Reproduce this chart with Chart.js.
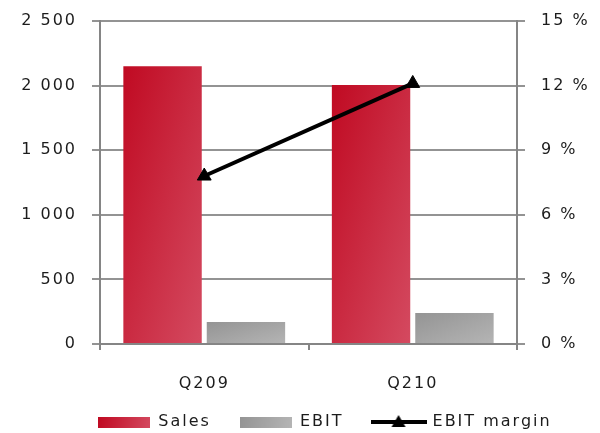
<!DOCTYPE html>
<html>
<head>
<meta charset="utf-8">
<script src="https://cdn.jsdelivr.net/npm/chart.js@4.4.0/dist/chart.umd.min.js"></script>
<style>
  html, body { margin: 0; padding: 0; background: #fff; }
  #wrap { width: 600px; height: 433px; }
</style>
</head>
<body>
<div id="wrap"><canvas id="salesChart"></canvas></div>
<script>
// Quarterly figures
const quarters = ['Q209', 'Q210'];
const sales = [2150, 2005];
const ebit = [170, 240];
const ebitMargin = [7.8, 12.1]; // percent
const amountTicks = [0, 500, 1000, 1500, 2000, 2500];
const marginTicks = [0, 3, 6, 9, 12, 15];

const FAMILY = "'DejaVu Sans', Arial, sans-serif";
const FONT = { family: FAMILY, size: 16 };
const TICK_FONT = { family: FAMILY, size: 16, lineHeight: 0.4 };
const TEXT = '#1c1c1c';
const GRID = '#939393';
const AXIS = '#858585';

// dark top-left -> light bottom-right
const salesShade = ['#c00a22', '#d44a60'];
const ebitShade = ['#949494', '#b5b5b5'];

const CAT_PCT = 0.8;
const BAR_PCT = 0.94;

function diagGradient(ctx, left, top, w, h, shade) {
  const L = Math.sqrt(w * w + h * h) || 1;
  const s = (w * h) / L;
  const ux = h / L, uy = w / L;
  const cx = left + w / 2, cy = top + h / 2;
  const g = ctx.createLinearGradient(cx - ux * s, cy - uy * s, cx + ux * s, cy + uy * s);
  g.addColorStop(0, shade[0]);
  g.addColorStop(1, shade[1]);
  return g;
}

function barFill(shade, slot) {
  return function(context) {
    const chart = context.chart;
    if (!chart.chartArea || context.type !== 'data') return shade[0];
    const xs = chart.scales.x, ys = chart.scales.y;
    const catW = xs.width / quarters.length;
    const slotW = catW * CAT_PCT / 2;
    const w = slotW * BAR_PCT;
    const cx = xs.getPixelForValue(context.dataIndex) + (slot - 0.5) * slotW;
    const top = ys.getPixelForValue(context.raw);
    const bottom = ys.getPixelForValue(0);
    return diagGradient(chart.ctx, cx - w / 2, top, w, bottom - top, shade);
  };
}

// legend swatches
function swatch(shade) {
  const c = document.createElement('canvas');
  c.width = 52; c.height = 11;
  const g = c.getContext('2d');
  const gr = g.createLinearGradient(0, 0, 52, 11);
  gr.addColorStop(0, shade[0]);
  gr.addColorStop(1, shade[1]);
  g.fillStyle = gr;
  g.fillRect(0, 0, 52, 11);
  return c;
}
function lineSwatch() {
  const c = document.createElement('canvas');
  c.width = 56; c.height = 16;
  const g = c.getContext('2d');
  g.fillStyle = '#000';
  g.fillRect(0, 6, 56, 4);
  g.beginPath();
  g.moveTo(28, 1);
  g.lineTo(35, 13);
  g.lineTo(21, 13);
  g.closePath();
  g.fill();
  return c;
}

// wider text, and legend nudged right of centre and up a little
const tweaks = {
  id: 'tweaks',
  beforeUpdate(chart) { chart.ctx.letterSpacing = '2px'; },
  afterLayout(chart) {
    const lg = chart.legend;
    lg.left += 25;
    lg.right += 25;
    lg.top -= 7;
  },
  beforeDraw(chart) { chart.ctx.letterSpacing = '2px'; }
};

const thousands = v => String(v).replace(/\B(?=(\d{3})+(?!\d))/g, ' ');

const chart = new Chart(document.getElementById('salesChart'), {
  data: {
    labels: quarters,
    datasets: [
      {
        type: 'line',
        label: 'EBIT margin',
        data: ebitMargin,
        yAxisID: 'y1',
        borderColor: '#000',
        borderWidth: 4,
        pointStyle: 'triangle',
        pointRadius: 8,
        pointBackgroundColor: '#000',
        pointBorderColor: '#000',
        pointBorderWidth: 1,
        order: 0
      },
      {
        type: 'bar',
        label: 'Sales',
        data: sales,
        yAxisID: 'y',
        backgroundColor: barFill(salesShade, 0),
        categoryPercentage: CAT_PCT,
        barPercentage: BAR_PCT,
        order: 1
      },
      {
        type: 'bar',
        label: 'EBIT',
        data: ebit,
        yAxisID: 'y',
        backgroundColor: barFill(ebitShade, 1),
        categoryPercentage: CAT_PCT,
        barPercentage: BAR_PCT,
        order: 1
      }
    ]
  },
  options: {
    responsive: true,
    maintainAspectRatio: false,
    animation: false,
    layout: { padding: { left: 0, top: 21, right: 0, bottom: 0 } },
    plugins: {
      tooltip: { enabled: false },
      legend: {
        position: 'bottom',
        maxHeight: 41,
        labels: {
          usePointStyle: true,
          pointStyleWidth: 52,
          padding: 29,
          color: TEXT,
          font: FONT,
          generateLabels: function(chart) {
            return [
              { text: 'Sales', pointStyle: swatch(salesShade), datasetIndex: 1, lineWidth: 0, hidden: false, fontColor: TEXT },
              { text: 'EBIT', pointStyle: swatch(ebitShade), datasetIndex: 2, lineWidth: 0, hidden: false, fontColor: TEXT },
              { text: 'EBIT margin', pointStyle: lineSwatch(), datasetIndex: 0, lineWidth: 0, hidden: false, fontColor: TEXT }
            ];
          }
        }
      }
    },
    scales: {
      x: {
        offset: true,
        grid: { offset: true, drawOnChartArea: false, tickLength: 6, color: AXIS, lineWidth: 2 },
        border: { color: AXIS, width: 2 },
        ticks: { padding: 24, color: TEXT, font: FONT },
        afterFit(s) { s.height = 48; }
      },
      y: {
        position: 'left',
        min: 0,
        max: 2500,
        afterBuildTicks(s) { s.ticks = amountTicks.map(v => ({ value: v })); },
        ticks: { padding: 15, color: TEXT, font: TICK_FONT, callback: v => thousands(v) },
        grid: { color: GRID, lineWidth: 2, tickLength: 8 },
        border: { color: AXIS, width: 2 },
        afterFit(s) { s.width = 100; }
      },
      y1: {
        position: 'right',
        min: 0,
        max: 15,
        afterBuildTicks(s) { s.ticks = marginTicks.map(v => ({ value: v })); },
        ticks: { padding: 16, color: TEXT, font: TICK_FONT, callback: v => v + ' %' },
        grid: { drawOnChartArea: false, color: GRID, lineWidth: 2, tickLength: 8 },
        border: { color: AXIS, width: 2 },
        afterFit(s) { s.width = 83; }
      }
    }
  },
  plugins: [tweaks]
});
</script>
</body>
</html>
